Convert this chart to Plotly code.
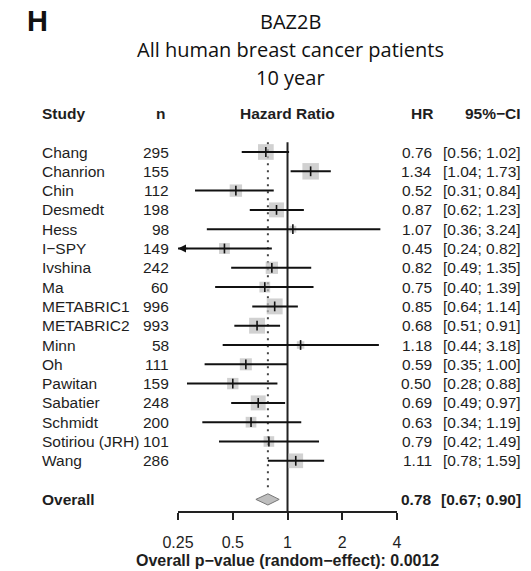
import numpy as np
import plotly.graph_objects as go

# ---- data -------------------------------------------------------------
studies = ["Chang", "Chanrion", "Chin", "Desmedt", "Hess", "I\u2212SPY", "Ivshina", "Ma",
           "METABRIC1", "METABRIC2", "Minn", "Oh", "Pawitan", "Sabatier", "Schmidt",
           "Sotiriou (JRH)", "Wang"]
n_patients = [295, 155, 112, 198, 98, 149, 242, 60, 996, 993, 58, 111, 159, 248, 200, 101, 286]
hr = [0.76, 1.34, 0.52, 0.87, 1.07, 0.45, 0.82, 0.75, 0.85, 0.68, 1.18, 0.59, 0.50, 0.69, 0.63, 0.79, 1.11]
ci_low = [0.56, 1.04, 0.31, 0.62, 0.36, 0.24, 0.49, 0.40, 0.64, 0.51, 0.44, 0.35, 0.28, 0.49, 0.34, 0.42, 0.78]
ci_high = [1.02, 1.73, 0.84, 1.23, 3.24, 0.82, 1.35, 1.39, 1.14, 0.91, 3.18, 1.00, 0.88, 0.97, 1.19, 1.49, 1.59]
overall_hr = 0.78
overall_low = 0.67
overall_high = 0.90
p_value = "0.0012"
tau2 = 0.045                      # between-study variance (random effects)
x_ticks = [0.25, 0.5, 1, 2, 4]
x_tick_labels = ["0.25", "0.5", "1", "2", "4"]
title_lines = ["BAZ2B", "All human breast cancer patients", "10 year"]

# ---- layout geometry ---------------------------------------------------
W, H = 531, 571
ROW0_PX, PITCH = 152.0, 19.3      # pixel centre of first study row, row pitch
X_LEFT, X_RIGHT = 168.7, 396.7    # forest panel extent in pixels
HEADER_ROW = -2
OVERALL_ROW = len(studies) + 1
AXIS_ROW = 18.65
XMIN, XMAX = x_ticks[0], x_ticks[-1]

y_top = -ROW0_PX / PITCH
y_bot = (H - ROW0_PX) / PITCH
axis_pos = (y_bot - AXIS_ROW) / (y_bot - y_top)

TXT = "Liberation Sans, Arial, sans-serif"
INK = "#1e1e1e"
GREY = "#bebebe"
FS = 15.5

rows = list(range(len(studies)))

# random-effects weights -> square sizes
se = (np.log(ci_high) - np.log(ci_low)) / (2 * 1.96)
w = 1.0 / (se ** 2 + tau2)
sizes = 16.5 * np.sqrt(w / w.max())

fig = go.Figure()

# line of no effect
fig.add_trace(go.Scatter(x=[1, 1], y=[-0.5, AXIS_ROW], mode="lines",
                         line=dict(color="#222", width=2), hoverinfo="skip"))
# pooled estimate (dotted)
fig.add_trace(go.Scatter(x=[overall_hr, overall_hr], y=[-0.5, OVERALL_ROW - 0.45], mode="lines",
                         line=dict(color="#444", width=2, dash="2px,5px"), hoverinfo="skip"))

# study squares
fig.add_trace(go.Scatter(x=hr, y=rows, mode="markers",
                         marker=dict(symbol="square", size=sizes, color=GREY, line=dict(width=0)),
                         hoverinfo="skip"))

# confidence intervals
cx, cy = [], []
for i, (lo, hi) in enumerate(zip(ci_low, ci_high)):
    cx += [max(lo, XMIN), min(hi, XMAX), None]
    cy += [i, i, None]
fig.add_trace(go.Scatter(x=cx, y=cy, mode="lines", line=dict(color="#111", width=2),
                         hoverinfo="skip"))

# point estimate ticks
fig.add_trace(go.Scatter(x=hr, y=rows, mode="markers",
                         marker=dict(symbol="line-ns-open", size=7, color="#111",
                                     line=dict(color="#111", width=1.6)),
                         hoverinfo="skip"))

# overall diamond
dh = 0.29
fig.add_trace(go.Scatter(
    x=[overall_low, overall_hr, overall_high, overall_hr, overall_low],
    y=[OVERALL_ROW, OVERALL_ROW - dh, OVERALL_ROW, OVERALL_ROW + dh, OVERALL_ROW],
    mode="lines", fill="toself", fillcolor=GREY,
    line=dict(color="#777", width=1), hoverinfo="skip"))

ann = []

def px(x):
    return x / W

# arrows where an interval runs past the axis
for i, (lo, hi) in enumerate(zip(ci_low, ci_high)):
    if lo < XMIN:
        ann.append(dict(x=np.log10(XMIN), y=i, xref="x", yref="y", ax=11, ay=0,
                        text="", showarrow=True, arrowhead=2, arrowsize=1,
                        arrowwidth=1.6, arrowcolor="#111", standoff=0))
    if hi > XMAX:
        ann.append(dict(x=np.log10(XMAX), y=i, xref="x", yref="y", ax=-11, ay=0,
                        text="", showarrow=True, arrowhead=2, arrowsize=1,
                        arrowwidth=1.6, arrowcolor="#111", standoff=0))

def txt(x, y, s, anchor="left", bold=False, size=FS, family=TXT, yref="y", color=INK):
    ann.append(dict(x=px(x), y=y, xref="paper", yref=yref, text=f"<b>{s}</b>" if bold else s,
                    showarrow=False, xanchor=anchor, yanchor="middle", borderpad=0,
                    font=dict(family=family, size=size, color=color)))

# column headers
txt(26, HEADER_ROW, "Study", bold=True)
txt(150, HEADER_ROW, "n", anchor="center", bold=True)
txt((X_LEFT + X_RIGHT) / 2, HEADER_ROW, "Hazard Ratio", anchor="center", bold=True)
txt(435, HEADER_ROW, "HR", anchor="right", bold=True)
txt(527, HEADER_ROW, "95%\u2212CI", anchor="right", bold=True)

# study rows
for i, s in enumerate(studies):
    txt(26, i, s)
    txt(160, i, str(n_patients[i]), anchor="right")
    txt(434, i, f"{hr[i]:.2f}", anchor="right")
    txt(527, i, f"[{ci_low[i]:.2f}; {ci_high[i]:.2f}]", anchor="right")

# overall row
txt(26, OVERALL_ROW, "Overall", bold=True)
txt(434, OVERALL_ROW, f"{overall_hr:.2f}", anchor="right", bold=True)
txt(527, OVERALL_ROW, f"[{overall_low:.2f}; {overall_high:.2f}]", anchor="right", bold=True)

# p-value caption under the axis
txt((X_LEFT + X_RIGHT) / 2, 1 - 560 / H,
    f"Overall p\u2212value (random\u2212effect): {p_value}",
    anchor="center", bold=True, size=16, yref="paper")

# titles
for yy, line in zip([21, 50, 77], title_lines):
    txt(286, 1 - yy / H, line, anchor="center", size=20, family="Open Sans, sans-serif",
        yref="paper", color="#111")
txt(10, 1 - 21 / H, "H", bold=True, size=29, yref="paper", color="#111")

fig.update_layout(
    width=W, height=H, margin=dict(l=0, r=0, t=0, b=0),
    paper_bgcolor="white", plot_bgcolor="white", showlegend=False,
    annotations=ann,
    xaxis=dict(type="log", range=[np.log10(XMIN), np.log10(XMAX)],
               domain=[X_LEFT / W, X_RIGHT / W], anchor="free", position=axis_pos,
               tickvals=x_ticks, ticktext=x_tick_labels, ticks="outside", ticklen=7,
               tickwidth=2, tickcolor="#222", showline=True, linewidth=2, linecolor="#222",
               showgrid=False, zeroline=False, ticklabelstandoff=9,
               tickfont=dict(family=TXT, size=16, color=INK)),
    yaxis=dict(range=[y_bot, y_top], domain=[0, 1], visible=False, showgrid=False,
               zeroline=False),
)

fig.write_html("out.html")
